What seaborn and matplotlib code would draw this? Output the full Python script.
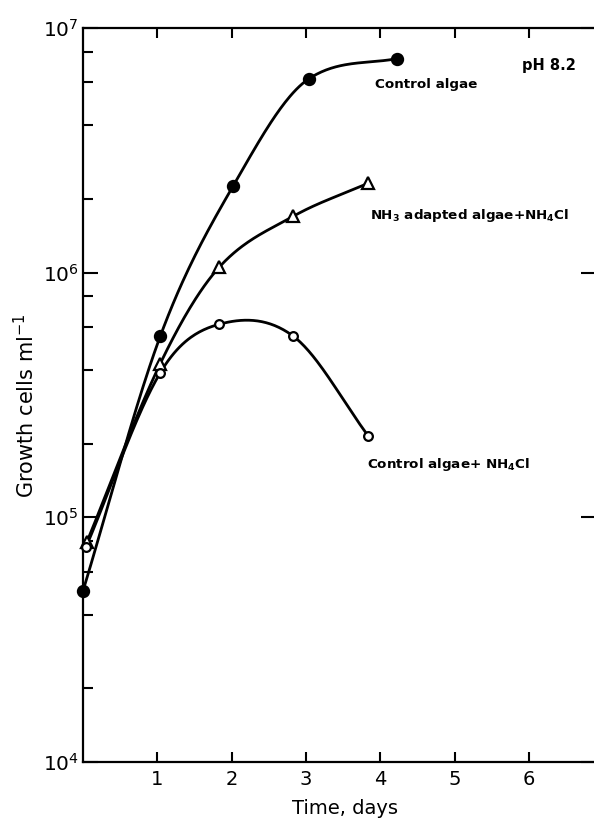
import numpy as np
import pandas as pd
import matplotlib
matplotlib.use("Agg")
import matplotlib.pyplot as plt
from matplotlib.ticker import LogLocator, NullFormatter, LogFormatterMathtext
import seaborn as sns

# ---- data ----
ctrl_x = [0.0, 1.04, 2.02, 3.04, 4.23]
ctrl_y = [5.0e4, 5.5e5, 2.26e6, 6.2e6, 7.5e6]

nh3_x = [0.05, 1.04, 1.83, 2.83, 3.84]
nh3_y = [7.9e4, 4.25e5, 1.05e6, 1.70e6, 2.32e6]

nh4_x = [0.04, 1.04, 1.83, 2.83, 3.84]
nh4_y = [7.55e4, 3.9e5, 6.15e5, 5.5e5, 2.15e5]

x_ticks = [1, 2, 3, 4, 5, 6]
x_tick_labels = ["1", "2", "3", "4", "5", "6"]


def smooth_curve(x, y, n=200):
    """Cardinal (Catmull-Rom style) Hermite curve with monotone limiting."""
    x = np.asarray(x, float)
    y = np.asarray(y, float)
    k = len(x)
    d = np.diff(y) / np.diff(x)
    m = np.empty(k)
    m[0] = d[0]
    m[-1] = d[-1]
    for i in range(1, k - 1):
        m[i] = (y[i + 1] - y[i - 1]) / (x[i + 1] - x[i - 1])
    for i in range(k - 1):
        if d[i] == 0:
            continue
        a = m[i] / d[i]
        b = m[i + 1] / d[i]
        if a > 0 and b > 0 and a * a + b * b > 9:
            t = 3 / np.sqrt(a * a + b * b)
            m[i] = t * a * d[i]
            m[i + 1] = t * b * d[i]
    xs = np.linspace(x[0], x[-1], n)
    ys = np.empty_like(xs)
    for j, xv in enumerate(xs):
        i = min(np.searchsorted(x, xv, side="right") - 1, k - 2)
        h = x[i + 1] - x[i]
        t = (xv - x[i]) / h
        h00 = 2 * t ** 3 - 3 * t ** 2 + 1
        h10 = t ** 3 - 2 * t ** 2 + t
        h01 = -2 * t ** 3 + 3 * t ** 2
        h11 = t ** 3 - t ** 2
        ys[j] = h00 * y[i] + h10 * h * m[i] + h01 * y[i + 1] + h11 * h * m[i + 1]
    return xs, ys


sns.set_theme(style="ticks")
plt.rcParams["font.family"] = ["DejaVu Sans"]
plt.rcParams["mathtext.default"] = "regular"

fig = plt.figure(figsize=(5.94, 8.19), dpi=100)
ax = fig.add_axes([83 / 594, 57 / 819, 6.9 * 74.3 / 594, 734 / 819])
ax.set_yscale("log")

series = [
    (ctrl_x, ctrl_y, "o", "black", 8),
    (nh3_x, nh3_y, "^", "white", 8),
    (nh4_x, nh4_y, "o", "white", 6.3),
]
for sx, sy, mk, fc, ms in series:
    xs, ly = smooth_curve(sx, np.log10(sy))
    curve = pd.DataFrame({"x": xs, "y": 10 ** ly})
    sns.lineplot(data=curve, x="x", y="y", ax=ax, color="black", lw=2.0,
                 sort=False, zorder=2)
    pts = pd.DataFrame({"x": sx, "y": sy})
    ax.plot(pts["x"], pts["y"], linestyle="none", marker=mk, ms=ms,
            markerfacecolor=fc, markeredgecolor="black", markeredgewidth=1.6,
            zorder=3, clip_on=False)

ax.set_xlim(0, 6.9)
ax.set_ylim(1e4, 1e7)
ax.set_xticks(x_ticks)
ax.set_xticklabels(x_tick_labels)
ax.yaxis.set_major_locator(LogLocator(base=10, numticks=10))
ax.yaxis.set_major_formatter(LogFormatterMathtext())
ax.yaxis.set_minor_locator(LogLocator(base=10, subs=[2, 4, 6, 8], numticks=20))
ax.yaxis.set_minor_formatter(NullFormatter())

for s in ax.spines.values():
    s.set_visible(True)
    s.set_linewidth(1.6)
    s.set_color("black")

ax.tick_params(axis="x", which="major", direction="in", length=7.5, width=1.5,
               top=True, bottom=True, labelsize=14, pad=6, colors="black")
ax.tick_params(axis="y", which="major", direction="in", length=11, width=1.5,
               left=True, right=True, labelsize=14.5, pad=3, colors="black")
ax.tick_params(axis="y", which="minor", direction="in", length=7, width=1.5,
               left=True, right=False, colors="black")

ax.set_xlabel("Time, days", fontsize=14, color="black")
ax.set_ylabel("Growth cells ml$^{-1}$", fontsize=15, color="black")
ax.xaxis.set_label_coords(0.511, -0.05)
ax.yaxis.set_label_coords(-0.088, 0.485)

txt = dict(fontsize=9.7, fontweight="bold", color="black", va="center", ha="left")
ax.text(5.91, 7.05e6, "pH 8.2", fontsize=10.5, fontweight="bold", color="black",
        va="center", ha="left")
ax.text(3.93, 5.9e6, "Control algae", **txt)
ax.text(3.86, 1.72e6, "NH$_3$ adapted algae+NH$_4$Cl", **txt)
ax.text(3.82, 1.65e5, "Control algae+ NH$_4$Cl", **txt)

fig.savefig("out.png", dpi=100)
